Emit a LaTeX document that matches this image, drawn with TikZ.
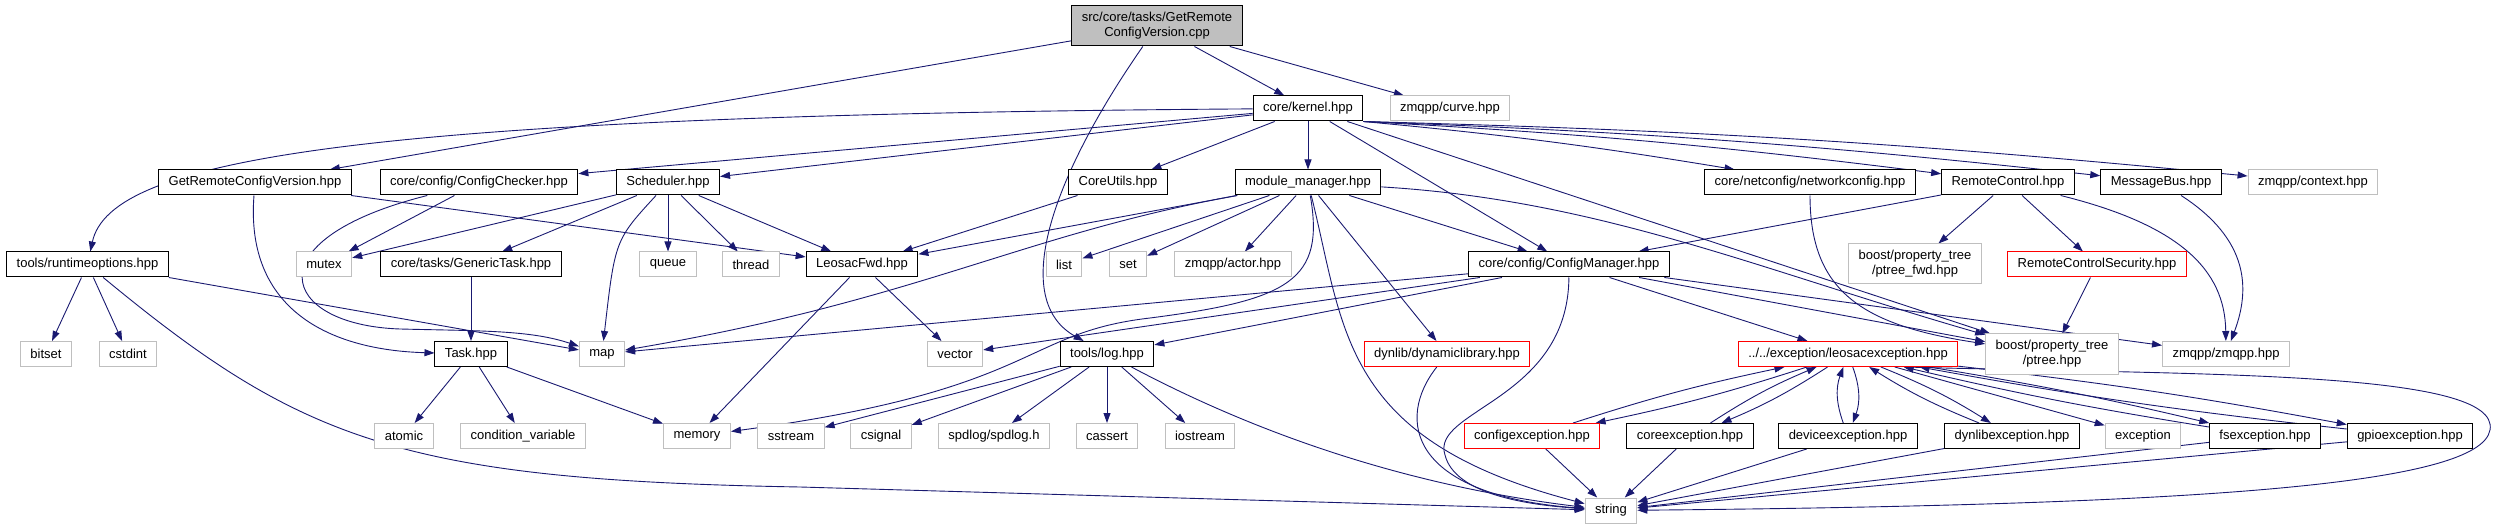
\documentclass[tikz,border=0pt]{standalone}
\usepackage{fontspec}
\setmainfont{Liberation Sans}
\usetikzlibrary{arrows.meta}

\definecolor{edgeblue}{HTML}{191970}
\definecolor{sysgrey}{HTML}{BFBFBF}

\pgfdeclarelayer{background}
\pgfsetlayers{background,main}

\tikzset{
  file/.style={draw=black, fill=white, line width=1pt, minimum height=25pt,
    inner xsep=10pt, inner ysep=2pt, font=\fontsize{13}{15}\selectfont},
  sysfile/.style={file, draw=sysgrey},
  badfile/.style={file, draw=red},
  twoline/.style={align=center, minimum height=40pt},
  rootfile/.style={file, twoline, fill=sysgrey},
  dep/.style={draw=edgeblue, line width=0.9pt, -{Triangle[length=10pt,width=7pt]}},
}

\begin{document}
\begin{tikzpicture}[x=1pt, y=-1pt]
  \useasboundingbox (0,0) rectangle (2501,529);

  % row 1 and 2
  \node[rootfile] (root) at (1157,26) {src/core/tasks/GetRemote\\ConfigVersion.cpp};
  \node[file] (kernel) at (1308,108.5) {core/kernel.hpp};
  \node[sysfile] (curve) at (1450,108.5) {zmqpp/curve.hpp};

  % row 3
  \node[file] (grcv) at (255,182.5) {GetRemoteConfigVersion.hpp};
  \node[file] (checker) at (479,182.5) {core/config/ConfigChecker.hpp};
  \node[file] (sched) at (668,182.5) {Scheduler.hpp};
  \node[file] (coreutils) at (1118,182.5) {CoreUtils.hpp};
  \node[file] (mm) at (1308,182.5) {module\_manager.hpp};
  \node[file] (netcfg) at (1810,182.5) {core/netconfig/networkconfig.hpp};
  \node[file] (remctl) at (2008,182.5) {RemoteControl.hpp};
  \node[file] (msgbus) at (2161,182.5) {MessageBus.hpp};
  \node[sysfile] (context) at (2313,182.5) {zmqpp/context.hpp};

  % row 4
  \node[file] (runtime) at (87.5,264.5) {tools/runtimeoptions.hpp};
  \node[sysfile] (mutex) at (324,264.5) {mutex};
  \node[file] (gentask) at (471,264.5) {core/tasks/GenericTask.hpp};
  \node[sysfile] (queue) at (668,264.5) {queue};
  \node[sysfile] (thread) at (751,264.5) {thread};
  \node[file] (leosacfwd) at (862,264.5) {LeosacFwd.hpp};
  \node[sysfile] (list) at (1064,264.5) {list};
  \node[sysfile] (set) at (1128,264.5) {set};
  \node[sysfile] (actor) at (1233,264.5) {zmqpp/actor.hpp};
  \node[file] (cfgmgr) at (1569,264.5) {core/config/ConfigManager.hpp};
  \node[sysfile, twoline] (ptreefwd) at (1915,264) {boost/property\_tree\\/ptree\_fwd.hpp};
  \node[badfile] (rcsec) at (2097,264.5) {RemoteControlSecurity.hpp};

  % row 5
  \node[sysfile] (bitset) at (46,354) {bitset};
  \node[sysfile] (cstdint) at (128,354) {cstdint};
  \node[file] (task) at (471,354) {Task.hpp};
  \node[sysfile] (map) at (602,354) {map};
  \node[sysfile] (vector) at (955,354) {vector};
  \node[file] (log) at (1107,354) {tools/log.hpp};
  \node[badfile] (dynlib) at (1447,354) {dynlib/dynamiclibrary.hpp};
  \node[badfile] (leosac) at (1848,354) {../../exception/leosacexception.hpp};
  \node[sysfile, twoline] (ptree) at (2052,354) {boost/property\_tree\\/ptree.hpp};
  \node[sysfile] (zmqpp) at (2226,354) {zmqpp/zmqpp.hpp};

  % row 6
  \node[sysfile] (atomic) at (404,436) {atomic};
  \node[sysfile] (condvar) at (523,436) {condition\_variable};
  \node[sysfile] (memory) at (697,436) {memory};
  \node[sysfile] (sstream) at (791,436) {sstream};
  \node[sysfile] (csignal) at (881,436) {csignal};
  \node[sysfile] (spdlog) at (994,436) {spdlog/spdlog.h};
  \node[sysfile] (cassert) at (1107,436) {cassert};
  \node[sysfile] (iostream) at (1200,436) {iostream};
  \node[badfile] (cfgexc) at (1532,436) {configexception.hpp};
  \node[file] (coreexc) at (1690,436) {coreexception.hpp};
  \node[file] (devexc) at (1848,436) {deviceexception.hpp};
  \node[file] (dynexc) at (2012,436) {dynlibexception.hpp};
  \node[sysfile] (exception) at (2143,436) {exception};
  \node[file] (fsexc) at (2265,436) {fsexception.hpp};
  \node[file] (gpioexc) at (2410,436) {gpioexception.hpp};

  % row 7
  \node[sysfile] (string) at (1611,510.5) {string};

  \begin{pgfonlayer}{background}
  % source file
  \foreach \t in {grcv,kernel,curve}
    \draw[dep] (root) -- (\t);
  \draw[dep] (root) .. controls (1050,180) and (1010,300) .. (log);

  \draw[dep] (grcv) -- (leosacfwd);
  \draw[dep] (grcv) .. controls (245,310) and (330,350) .. (task);

  % kernel
  \draw[dep] (kernel) .. controls (350,115) and (110,160) .. (runtime);
  \foreach \t in {checker,sched,coreutils,mm,cfgmgr,ptree}
    \draw[dep] (kernel) -- (\t);
  \foreach \t in {netcfg,remctl,msgbus,context}
    \draw[dep] (kernel.south east) to[bend left=2] (\t);

  % row 3 headers
  \draw[dep] (checker) -- (mutex);
  \draw[dep] (checker) .. controls (250,240) and (280,325) .. (400,329)
    .. controls (480,331) and (530,330) .. (map);
  \foreach \t in {mutex,gentask,queue,thread,leosacfwd}
    \draw[dep] (sched) -- (\t);
  \draw[dep] (sched) .. controls (615,240) .. (map);
  \draw[dep] (coreutils) -- (leosacfwd);

  \foreach \t in {leosacfwd,list,set,actor,dynlib,cfgmgr}
    \draw[dep] (mm) -- (\t);
  \draw[dep] (mm) .. controls (1020,235) and (920,300) .. (map);
  \draw[dep] (mm) .. controls (1325,280) and (1290,300) .. (1150,318)
    .. controls (1020,333) and (1040,390) .. (memory);
  \draw[dep] (mm) .. controls (1345,330) and (1340,440) .. (string);
  \draw[dep] (mm) .. controls (1600,200) and (1760,270) .. (ptree);

  \draw[dep] (netcfg) .. controls (1810,290) and (1860,325) .. (ptree);
  \foreach \t in {cfgmgr,ptreefwd,rcsec}
    \draw[dep] (remctl) -- (\t);
  \draw[dep] (remctl) .. controls (2180,225) and (2225,270) .. (zmqpp);
  \draw[dep] (msgbus) .. controls (2250,240) and (2250,290) .. (zmqpp);

  % row 4 headers
  \foreach \t in {bitset,cstdint}
    \draw[dep] (runtime) -- (\t);
  \draw[dep] (runtime.south east) -- (map);
  \draw[dep] (runtime) .. controls (300,440) and (400,480) .. (800,487) -- (string);
  \draw[dep] (gentask) -- (task);
  \draw[dep] (leosacfwd) -- (memory);
  \draw[dep] (leosacfwd) -- (vector);
  \foreach \t in {map,vector,log,leosac,ptree,zmqpp}
    \draw[dep] (cfgmgr) -- (\t);
  \draw[dep] (cfgmgr) .. controls (1568,400) and (1430,410) .. (1445,455)
    .. controls (1455,495) and (1530,505) .. (string);
  \draw[dep] (rcsec) -- (ptree);

  % row 5 headers
  \foreach \t in {atomic,condvar,memory}
    \draw[dep] (task) -- (\t);
  \foreach \t in {sstream,csignal,spdlog,cassert,iostream}
    \draw[dep] (log) -- (\t);
  \draw[dep] (log) .. controls (1250,430) and (1400,485) .. (string);
  \draw[dep] (dynlib) .. controls (1395,420) and (1410,495) .. (string);

  % exceptions
  \foreach \t/\b in {cfgexc/3,coreexc/5,devexc/20,dynexc/5,fsexc/2,gpioexc/2} {
    \draw[dep] (leosac) to[bend left=\b] (\t);
    \draw[dep] (\t) to[bend left=\b] (leosac);
    \draw[dep] (\t) -- (string);
  }
  \draw[dep] (leosac) -- (exception);
  \draw[dep] (leosac.-13) .. controls (2200,375) and (2501,370) .. (2490,430)
    .. controls (2480,485) and (2200,505) .. (string);
  \end{pgfonlayer}
\end{tikzpicture}
\end{document}
